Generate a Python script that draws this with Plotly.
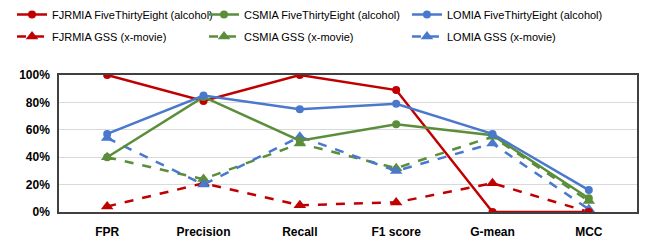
import plotly.graph_objects as go

categories = ["FPR", "Precision", "Recall", "F1 score", "G-mean", "MCC"]
fjrmia_fte = [100, 81, 100, 89, 0, 0]
csmia_fte = [40, 84, 52, 64, 56, 10]
lomia_fte = [57, 85, 75, 79, 57, 16]
fjrmia_gss = [4, 21, 5, 7, 21, 0]
csmia_gss = [40, 24, 50, 32, 55, 8]
lomia_gss = [54, 20, 55, 30, 50, 2]
y_ticks = [0, 20, 40, 60, 80, 100]
y_tick_labels = ["0%", "20%", "40%", "60%", "80%", "100%"]

RED = "#C00000"
GREEN = "#5B8E3A"
BLUE = "#4A78CC"
FONT = "Liberation Sans, Arial, sans-serif"

series = [
    ("FJRMIA FiveThirtyEight (alcohol)", fjrmia_fte, RED, "solid", "circle", 8, "legend", "a"),
    ("FJRMIA GSS (x-movie)", fjrmia_gss, RED, "dash", "triangle-up", 11, "legend", "b"),
    ("CSMIA FiveThirtyEight (alcohol)", csmia_fte, GREEN, "solid", "circle", 8, "legend2", "a"),
    ("CSMIA GSS (x-movie)", csmia_gss, GREEN, "dash", "triangle-up", 11, "legend2", "b"),
    ("LOMIA FiveThirtyEight (alcohol)", lomia_fte, BLUE, "solid", "circle", 8, "legend3", "a"),
    ("LOMIA GSS (x-movie)", lomia_gss, BLUE, "dash", "triangle-up", 11, "legend3", "b"),
]

fig = go.Figure()
order = [1, 3, 5, 0, 2, 4]
for i in order:
    name, vals, color, dash, sym, size, leg, grp = series[i]
    fig.add_trace(go.Scatter(
        x=categories, y=vals, name=name, mode="lines+markers",
        line=dict(color=color, width=2.5, dash=dash),
        marker=dict(color=color, symbol=sym, size=size),
        legend=leg, legendrank=i, legendgroup=grp,
    ))

legend_common = dict(orientation="v", font=dict(family=FONT, size=11, color="#000"),
                     bgcolor="rgba(0,0,0,0)", tracegroupgap=3, itemwidth=30,
                     yref="container", yanchor="top", y=1.03, xanchor="left",
                     traceorder="grouped")

fig.update_layout(
    width=645, height=243,
    margin=dict(l=59, r=8, t=75, b=31, autoexpand=False),
    paper_bgcolor="white", plot_bgcolor="white",
    font=dict(family=FONT, size=12, color="#000"),
    showlegend=True,
    legend=dict(**legend_common, x=-0.0813),
    legend2=dict(**legend_common, x=0.2509),
    legend3=dict(**legend_common, x=0.6020),
    xaxis=dict(showgrid=False, ticks="", showline=True, linecolor="#404040", linewidth=1.5,
               mirror=True, tickfont=dict(family=FONT, size=12, color="#000", weight="bold"),
               range=[-0.5, 5.5], ticklabelstandoff=8),
    yaxis=dict(range=[0, 100], tickvals=y_ticks, ticktext=y_tick_labels,
               showgrid=True, gridcolor="#D9D9D9", gridwidth=1,
               showline=True, linecolor="#404040", linewidth=1.5, mirror=True,
               tickfont=dict(family=FONT, size=12, color="#000", weight="bold"),
               zeroline=False, ticklabelstandoff=5),
)

fig.write_html("out.html", config={"displayModeBar": False},
               post_script="document.body.style.margin='0';")
